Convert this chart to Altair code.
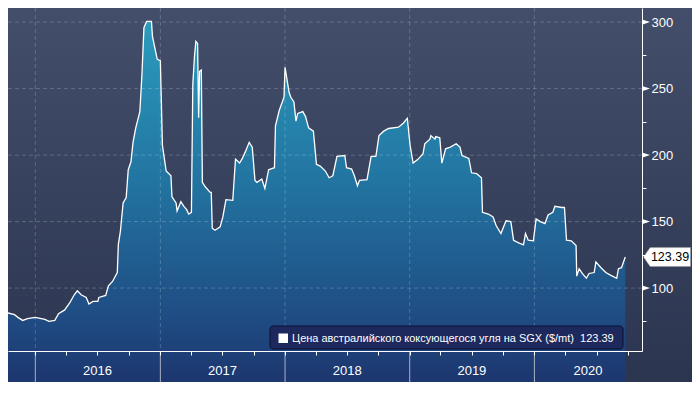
import altair as alt
import pandas as pd

series_name = "Цена австралийского коксующегося угля на SGX ($/mt)"

dates = [
    "2015-10-13", "2015-11-01", "2015-11-11", "2015-11-25", "2015-12-09",
    "2016-01-01", "2016-01-29", "2016-02-10", "2016-02-27", "2016-03-09",
    "2016-03-27", "2016-04-10", "2016-04-24", "2016-05-03", "2016-05-14",
    "2016-05-29", "2016-06-06", "2016-06-18", "2016-07-02", "2016-07-05",
    "2016-07-25", "2016-08-02", "2016-08-14", "2016-08-28", "2016-08-31",
    "2016-09-06", "2016-09-14", "2016-09-23", "2016-09-29", "2016-10-07",
    "2016-10-13", "2016-10-21", "2016-11-02", "2016-11-08", "2016-11-14",
    "2016-11-22", "2016-12-06", "2016-12-09", "2016-12-21", "2016-12-23",
    "2017-01-01", "2017-01-07", "2017-01-18", "2017-02-01", "2017-02-04",
    "2017-02-16", "2017-02-19", "2017-03-02", "2017-03-11", "2017-03-19",
    "2017-03-25", "2017-04-02", "2017-04-06", "2017-04-11", "2017-04-15",
    "2017-04-20", "2017-04-23", "2017-04-26", "2017-05-01", "2017-05-04",
    "2017-05-13", "2017-05-27", "2017-05-30", "2017-06-02", "2017-06-10",
    "2017-06-25", "2017-07-03", "2017-07-12", "2017-08-01", "2017-08-09",
    "2017-08-21", "2017-08-29", "2017-09-07", "2017-09-18", "2017-09-27",
    "2017-10-05", "2017-10-11", "2017-10-25", "2017-11-03", "2017-11-14",
    "2017-12-01", "2017-12-04", "2017-12-15", "2017-12-29", "2018-01-01",
    "2018-01-13", "2018-01-18", "2018-01-27", "2018-02-02", "2018-02-07",
    "2018-02-22", "2018-03-02", "2018-03-11", "2018-03-25", "2018-04-03",
    "2018-04-14", "2018-04-29", "2018-05-10", "2018-05-21", "2018-06-02",
    "2018-06-25", "2018-06-30", "2018-07-15", "2018-07-23", "2018-08-01",
    "2018-08-07", "2018-08-29", "2018-09-10", "2018-09-24", "2018-10-03",
    "2018-10-17", "2018-10-31", "2018-11-29", "2018-12-13", "2018-12-25",
    "2019-01-02", "2019-01-11", "2019-01-25", "2019-02-09", "2019-02-14",
    "2019-03-01", "2019-03-04", "2019-03-16", "2019-03-18", "2019-03-30",
    "2019-04-05", "2019-04-16", "2019-04-30", "2019-05-17", "2019-05-28",
    "2019-06-03", "2019-06-23", "2019-07-01", "2019-07-16", "2019-07-30",
    "2019-08-02", "2019-08-19", "2019-09-02", "2019-09-11", "2019-09-25",
    "2019-10-10", "2019-10-24", "2019-11-01", "2019-11-16", "2019-11-30",
    "2019-12-06", "2019-12-14", "2019-12-29", "2020-01-06", "2020-01-18",
    "2020-02-01", "2020-02-10", "2020-02-24", "2020-03-01", "2020-03-21",
    "2020-03-29", "2020-04-04", "2020-04-18", "2020-05-02", "2020-05-04",
    "2020-05-11", "2020-05-20", "2020-06-01", "2020-06-09", "2020-06-24",
    "2020-06-29", "2020-07-14", "2020-07-28", "2020-08-12", "2020-08-29",
    "2020-09-03", "2020-09-12", "2020-09-23",
]

values = [
    81.3, 80.0, 78.0, 75.7, 77.0,
    78.0, 76.5, 75.0, 75.7, 80.7,
    83.6, 88.6, 95.0, 98.0, 95.0,
    93.0, 88.0, 90.0, 90.0, 93.0,
    94.5, 101.7, 105.0, 111.7, 132.7,
    142.7, 164.0, 168.0, 189.0, 195.0,
    209.6, 220.5, 232.7, 260.0, 296.0,
    300.5, 300.5, 289.0, 274.5, 272.0,
    271.0, 207.5, 188.0, 184.5, 168.6,
    164.0, 158.0, 165.0, 161.5, 159.0,
    155.7, 157.0, 253.0, 274.5, 285.5,
    284.0, 228.0, 263.0, 264.0, 179.5,
    176.0, 172.0, 172.0, 145.0, 143.5,
    146.0, 153.5, 166.5, 166.0, 197.0,
    194.0, 197.5, 202.6, 209.6, 206.0,
    181.0, 179.5, 182.0, 175.0, 189.0,
    190.5, 222.0, 233.5, 243.5, 266.0,
    247.0, 243.5, 240.0, 225.5, 231.3,
    232.7, 229.0, 220.5, 218.0, 193.0,
    191.7, 188.0, 183.0, 184.5, 199.0,
    199.7, 190.5, 189.5, 184.5, 177.0,
    181.0, 181.6, 199.0, 199.0, 214.7,
    218.0, 220.0, 221.0, 224.0, 227.7,
    207.5, 194.0, 196.8, 201.0, 208.5,
    212.0, 214.7, 212.0, 214.0, 213.0,
    194.0, 204.7, 206.0, 208.5, 206.0,
    199.7, 197.5, 186.7, 186.0, 183.0,
    157.0, 155.7, 153.5, 147.0, 141.0,
    150.6, 150.0, 136.0, 134.0, 132.6,
    141.0, 136.0, 135.5, 152.0, 150.0,
    148.5, 155.0, 157.0, 161.5, 160.6,
    160.6, 136.0, 135.5, 132.0, 109.0,
    114.6, 111.0, 107.4, 111.0, 111.7,
    119.7, 115.3, 111.7, 109.6, 107.4,
    114.6, 115.3, 123.39,
]

y_major = [100, 150, 200, 250, 300]
y_ticks = [75, 100, 125, 150, 175, 200, 225, 250, 275, 300]
year_starts = ["2016-01-01", "2017-01-01", "2018-01-01", "2019-01-01", "2020-01-01"]
year_label_dates = ["2016-07-01", "2017-07-02", "2018-07-02", "2019-07-02", "2020-06-06"]
year_labels = ["2016", "2017", "2018", "2019", "2020"]

W, H = 634, 343
RIGHT, BOTTOM = 50, 31
FONT = "Liberation Sans"

df = pd.DataFrame({"date": dates, "value": values})
last_value = values[-1]

x_scale = alt.Scale(domain=[alt.DateTime(year=2015, month=10, date=13, utc=True),
                            alt.DateTime(year=2020, month=11, date=11, utc=True)])
quarters = [alt.DateTime(year=y, month=m, date=1, utc=True)
            for y in range(2016, 2021) for m in (1, 4, 7, 10)]
x_axis = alt.Axis(values=quarters, labels=False, title=None, grid=False,
                  domain=True, domainColor="white", domainWidth=1,
                  tickColor="white", tickSize=4, tickWidth=1, zindex=1)

y_scale = alt.Scale(domain=[52.7, 310.6], nice=False, zero=False)
y_axis = alt.Axis(orient="right", values=y_ticks, title=None, grid=False,
                  labelExpr="datum.value % 50 == 0 ? datum.label : ''",
                  labelOverlap=False, labelFont=FONT, labelFontSize=13,
                  labelColor="white", labelPadding=5, tickSize=4,
                  tickColor="white", domainColor="white", domainWidth=1, zindex=1)

X = alt.X("date:T", scale=x_scale, axis=x_axis)
Y = alt.Y("value:Q", scale=y_scale, axis=y_axis)

bg_grad = alt.Gradient(gradient="linear", x1=0, x2=0, y1=0, y2=1,
                       stops=[alt.GradientStop(color="#434e6a", offset=0),
                              alt.GradientStop(color="#2b3550", offset=1)])
area_grad = alt.Gradient(gradient="linear", x1=0, x2=0, y1=0, y2=1,
                         stops=[alt.GradientStop(color="#2b9cbd", offset=0),
                                alt.GradientStop(color="#2274a1", offset=0.4),
                                alt.GradientStop(color="#1f4b82", offset=0.75),
                                alt.GradientStop(color="#1c2862", offset=1)])

bg = alt.Chart(pd.DataFrame({"a": [0]})).mark_rect(color=bg_grad).encode(
    x=alt.value(0), x2=alt.value(W + RIGHT), y=alt.value(0), y2=alt.value(H + BOTTOM))

area = alt.Chart(df).mark_area(color=area_grad, interpolate="linear").encode(
    x=X, y=Y, y2=alt.value(H))

hgrid = alt.Chart(pd.DataFrame({"value": y_major})).mark_rule(
    color="white", opacity=0.2, strokeDash=[4, 3], strokeWidth=1).encode(y=Y)

vgrid = alt.Chart(pd.DataFrame({"date": year_starts})).mark_rule(
    color="white", opacity=0.2, strokeDash=[4, 3], strokeWidth=1).encode(x=X)

line = alt.Chart(df).mark_line(color="white", strokeWidth=1.3).encode(x=X, y=Y)

seps = alt.Chart(pd.DataFrame({"date": year_starts})).mark_rule(
    color="#aab2c3", strokeWidth=1).encode(x=X, y=alt.value(H), y2=alt.value(H + BOTTOM))

ylabels = alt.Chart(pd.DataFrame({"date": year_label_dates, "t": year_labels})).mark_text(
    font=FONT, fontSize=13, color="white", baseline="middle", align="center").encode(
    x=X, y=alt.value(H + 20), text="t:N")

legbox = alt.Chart(pd.DataFrame({"a": [0]})).mark_rect(
    fill="#1d295d", stroke="#0b1131", strokeWidth=1, cornerRadius=3).encode(
    x=alt.value(262), x2=alt.value(615), y=alt.value(318), y2=alt.value(341))
legsq = alt.Chart(pd.DataFrame({"a": [0]})).mark_rect(color="white").encode(
    x=alt.value(270.5), x2=alt.value(280), y=alt.value(325.5), y2=alt.value(335))
legtxt = alt.Chart(pd.DataFrame({"t": [series_name + " \u00a0" + f"{last_value:.2f}"]})).mark_text(
    font=FONT, fontSize=11, color="white", align="left", baseline="middle").encode(
    x=alt.value(284), y=alt.value(330.5), text="t:N")

tri = alt.Chart(pd.DataFrame({"value": y_major})).mark_point(
    shape="M-1,-0.65L1,0L-1,0.65Z", size=64, filled=True, color="white", opacity=1).encode(
    x=alt.value(W + 4), y=Y)

flag_df = pd.DataFrame({"value": [last_value], "label": [f"{last_value:.2f}"]})
flag = alt.Chart(flag_df).mark_point(
    shape="M-1,0L-0.72,-0.4L1,-0.4L1,0.4L-0.72,0.4Z", size=2209, filled=True,
    fill="white", stroke="#999999", strokeWidth=0.5, opacity=1).encode(
    x=alt.value(W + 25), y=Y)
flagtxt = alt.Chart(flag_df).mark_text(
    font=FONT, fontSize=12.5, color="black", align="center", baseline="middle").encode(
    x=alt.value(W + 28), y=Y, text="label:N")

chart = alt.layer(bg, area, hgrid, vgrid, line, seps, ylabels, legbox, legsq, legtxt,
                  tri, flag, flagtxt).properties(
    width=W, height=H,
    padding={"left": 0, "top": 0, "right": RIGHT, "bottom": BOTTOM},
    autosize=alt.AutoSizeParams(type="none"),
).configure(background="#2f3a56").configure_view(stroke=None)

chart.save("out.html", embed_options={"renderer": "svg", "actions": False})
